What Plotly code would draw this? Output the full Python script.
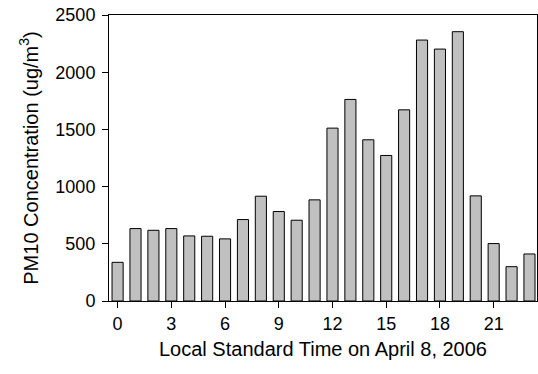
import plotly.graph_objects as go

hours = list(range(24))
pm10 = [338, 633, 618, 633, 569, 566, 543, 712, 916, 782, 706, 884,
        1511, 1762, 1409, 1272, 1671, 2281, 2202, 2354, 919, 502, 300, 411]
x_ticks = [0, 3, 6, 9, 12, 15, 18, 21]
y_ticks = [0, 500, 1000, 1500, 2000, 2500]

fig = go.Figure(go.Bar(
    x=hours, y=pm10, width=0.62,
    marker=dict(color="#c0c0c0", line=dict(color="black", width=1)),
))

font = "Liberation Sans, Arial, sans-serif"
fig.update_layout(
    width=538, height=374,
    margin=dict(l=109, r=1, t=15, b=73),
    plot_bgcolor="white", paper_bgcolor="white",
    showlegend=False,
    font=dict(family=font, size=18, color="black"),
    xaxis=dict(
        range=[-0.48, 23.42], tickvals=x_ticks, ticks="outside", ticklen=6,
        tickcolor="black", showline=True, linecolor="black", linewidth=1,
        mirror=True, showgrid=False, zeroline=False,
        tickfont=dict(size=18),
        title=dict(text="Local Standard Time on April 8, 2006", font=dict(size=20), standoff=9),
    ),
    yaxis=dict(
        range=[0, 2500], tickvals=y_ticks, ticks="outside", ticklen=6,
        tickcolor="black", showline=True, linecolor="black", linewidth=1,
        mirror=True, showgrid=False, zeroline=False,
        tickfont=dict(size=18), ticklabelstandoff=3,
        title=dict(text="PM10 Concentration (ug/m<sup>3</sup>)", font=dict(size=20), standoff=11),
    ),
)

fig.write_html("out.html", config={"displayModeBar": False},
               post_script="document.body.style.margin='0';document.body.style.overflow='hidden';")
